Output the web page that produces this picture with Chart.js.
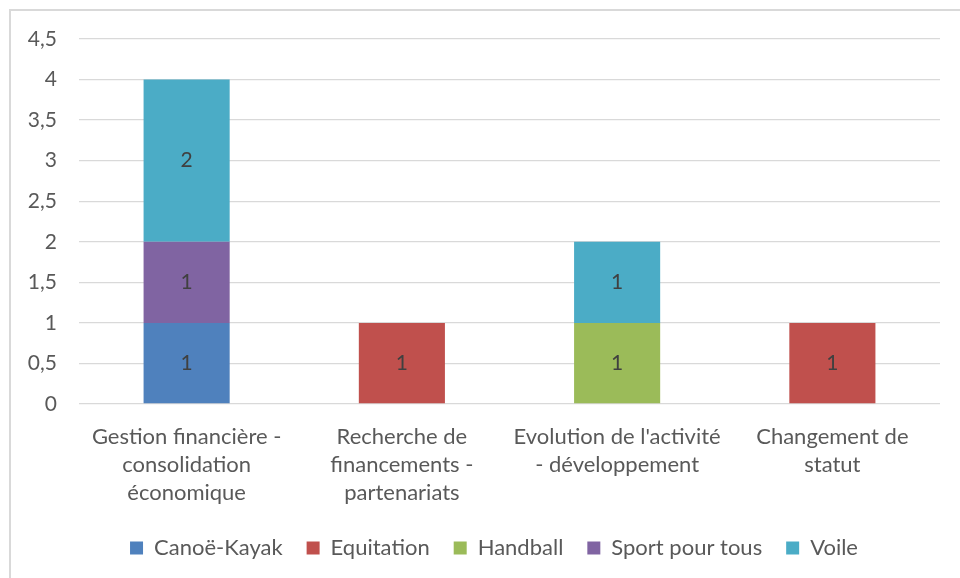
<!DOCTYPE html>
<html>
<head>
<meta charset="utf-8">
<script src="https://cdn.jsdelivr.net/npm/chart.js@4"></script>
<style>
  html, body { margin: 0; padding: 0; background: #fff; overflow: hidden; }
  #wrap { position: relative; width: 960px; height: 578px; }
  #frame { position: absolute; left: 9px; top: 9px; width: 1000px; height: 1000px;
           border-left: 2px solid #d9d9d9; border-top: 2px solid #d9d9d9; box-sizing: border-box; }
  canvas { position: absolute; left: 0; top: 0; }
</style>
</head>
<body>
<div id="wrap">
  <div id="frame"></div>
  <canvas id="chart" width="960" height="578"></canvas>
</div>
<script>
const categories = [
  ['Gestion financière -', 'consolidation', 'économique'],
  ['Recherche de', 'financements -', 'partenariats'],
  ["Evolution de l'activité", '- développement'],
  ['Changement de', 'statut'],
]
const canoeKayak = [1, null, null, null]
const equitation = [null, 1, null, 1]
const handball = [null, null, 1, null]
const sportPourTous = [1, null, null, null]
const voile = [2, null, 1, null]
const yTicks = [0, 0.5, 1, 1.5, 2, 2.5, 3, 3.5, 4, 4.5]

const textColor = '#595959'
const fontFamily = 'Lato, "Open Sans", sans-serif'
const fontSize = 22

// draws the value in the middle of each bar segment
const barLabels = {
  id: 'barLabels',
  afterDatasetsDraw(chart) {
    const ctx = chart.ctx
    ctx.save()
    ctx.font = '21px ' + fontFamily
    ctx.fillStyle = '#404040'
    ctx.textAlign = 'center'
    ctx.textBaseline = 'middle'
    chart.data.datasets.forEach((ds, i) => {
      const meta = chart.getDatasetMeta(i)
      meta.data.forEach((bar, j) => {
        const v = ds.data[j]
        if (v == null) return
        const y = (bar.y + bar.base) / 2
        ctx.fillText(String(v), bar.x, y)
      })
    })
    ctx.restore()
  },
}

// legend in the original sits a bit right of the canvas centre
const legendShift = {
  id: 'legendShift',
  afterLayout(chart) {
    chart.legend.left += 24
    chart.legend.right += 24
  },
}

const makeSet = (label, data, color) => ({
  label: label,
  data: data,
  backgroundColor: color,
  borderWidth: 0,
  barPercentage: 0.4,
  categoryPercentage: 1,
})

new Chart(document.getElementById('chart').getContext('2d'), {
  type: 'bar',
  data: {
    labels: categories,
    datasets: [
      makeSet('Canoë-Kayak', canoeKayak, '#4f81bd'),
      makeSet('Equitation', equitation, '#c0504d'),
      makeSet('Handball', handball, '#9bbb59'),
      makeSet('Sport pour tous', sportPourTous, '#8064a2'),
      makeSet('Voile', voile, '#4bacc6'),
    ],
  },
  options: {
    responsive: false,
    animation: false,
    layout: { padding: { top: 39, right: 20, bottom: 9, left: 0 } },
    plugins: {
      tooltip: { enabled: false },
      legend: {
        position: 'bottom',
        labels: {
          boxWidth: 13,
          boxHeight: 13,
          padding: 24,
          color: textColor,
          font: { family: fontFamily, size: fontSize },
        },
      },
    },
    scales: {
      x: {
        stacked: true,
        grid: { display: false, drawTicks: false },
        border: { display: false },
        ticks: {
          color: textColor,
          padding: 19,
          maxRotation: 0,
          autoSkip: false,
          font: { family: fontFamily, size: fontSize, lineHeight: 1.28 },
        },
        afterFit(scale) { scale.height = 109 },
      },
      y: {
        stacked: true,
        min: 0,
        max: 4.5,
        afterBuildTicks(scale) { scale.ticks = yTicks.map((v) => ({ value: v })) },
        grid: { color: '#d9d9d9', lineWidth: 1.3, drawTicks: false },
        border: { display: false },
        ticks: {
          color: textColor,
          padding: 22,
          font: { family: fontFamily, size: 21 },
          callback: (v) => String(v).replace('.', ','),
        },
        afterFit(scale) { scale.width = 79 },
      },
    },
  },
  plugins: [barLabels, legendShift],
})
</script>
</body>
</html>
